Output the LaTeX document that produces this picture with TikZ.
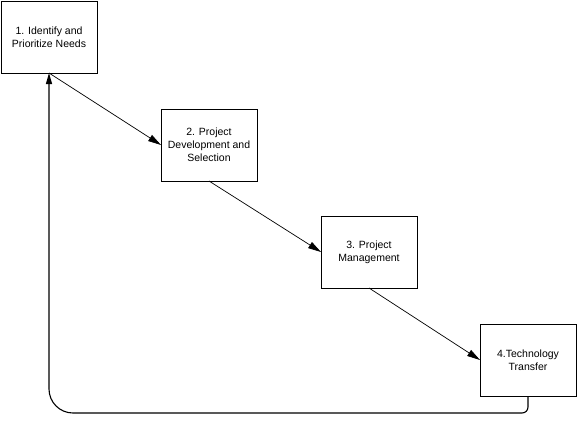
\documentclass[tikz,border=0pt]{standalone}
\usepackage{fontspec}
\setmainfont{Liberation Sans}
\usetikzlibrary{positioning,arrows.meta}

\begin{document}
\begin{tikzpicture}
        [font=\fontsize{10.5}{13}\selectfont, x=1pt, y=1pt,
        stage/.style={draw=black, line width=1pt, minimum width=96pt,
        minimum height=72pt, align=center, inner sep=0pt, outer sep=0pt},
        flow/.style={draw=black, line width=0.7pt, -{Triangle[length=13pt,width=7pt]}},
        node distance=35pt and 64pt]
        \useasboundingbox (0,0) rectangle (577,-426);
        \node [stage] (needs) at (49,-37) {1. Identify and\\Prioritize Needs};
        \node [stage, below right=36pt and 64pt of needs.south east, anchor=north west] (develop)
            {2. Project\\Development and\\Selection};
        \node [stage, below right=of develop.south east, anchor=north west] (manage)
            {3. Project\\Management};
        \node [stage, below right=36pt and 63pt of manage.south east, anchor=north west] (transfer)
            {4.Technology\\Transfer};
        % the steps
        \draw [flow] (needs.south) -- (develop.west);
        \draw [flow] (develop.south) -- (manage.west);
        \draw [flow] (manage.south) -- (transfer.west);
        % back to the start
        \coordinate [below=17pt of transfer.south] (loop);
        \draw [line width=1.1pt, -{Triangle[length=11pt,width=6pt]}]
            (transfer.south) [rounded corners=6pt] -- (loop)
            [rounded corners=24pt] -- (needs.south |- loop)
            [sharp corners] -- (needs.south);
\end{tikzpicture}
\end{document}
